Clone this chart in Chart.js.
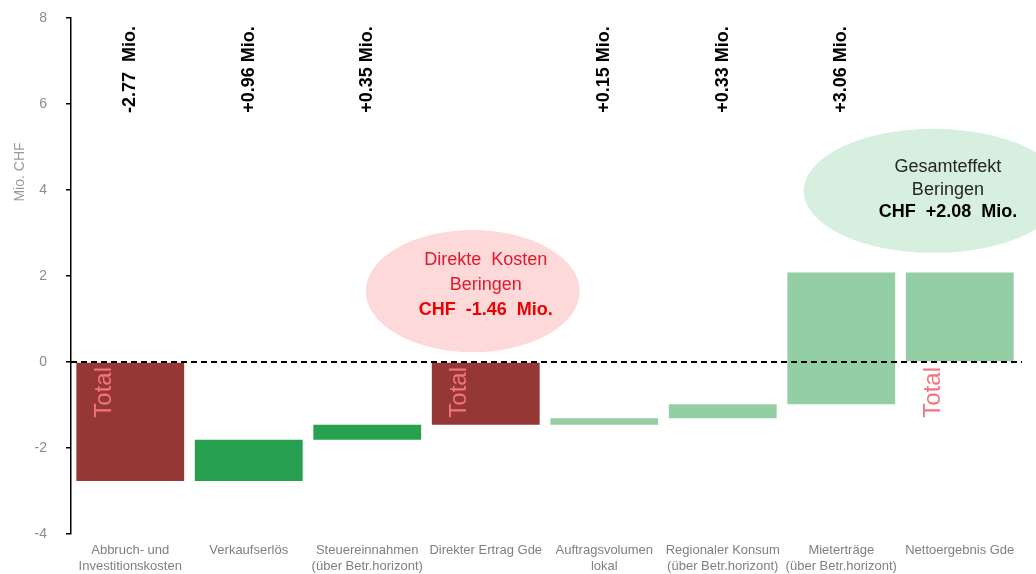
<!DOCTYPE html>
<html>
<head>
<meta charset="utf-8">
<script src="https://cdn.jsdelivr.net/npm/chart.js@4"></script>
<style>
  html, body { margin: 0; padding: 0; background: #fff; }
  #wrap { width: 1036px; height: 574px; position: relative; }
</style>
</head>
<body>
<div id="wrap"><canvas id="chart"></canvas></div>
<script>
// ---- data ----
const categories = [
  ['Abbruch- und', 'Investitionskosten'],
  'Verkaufserlös',
  ['Steuereinnahmen', '(über Betr.horizont)'],
  'Direkter Ertrag Gde',
  ['Auftragsvolumen', 'lokal'],
  ['Regionaler Konsum', '(über Betr.horizont)'],
  ['Mieterträge', '(über Betr.horizont)'],
  'Nettoergebnis Gde'
];
const barLow  = [-2.77, -2.77, -1.81, -1.46, -1.46, -1.31, -0.98, 0];
const barHigh = [0, -1.81, -1.46, 0, -1.31, -0.98, 2.08, 2.08];
const deltaLabels = ['-2.77  Mio.', '+0.96 Mio.', '+0.35 Mio.', '', '+0.15 Mio.', '+0.33 Mio.', '+3.06 Mio.', ''];
const totalIndex = [0, 3, 7];
const yTickValues = [-4, -2, 0, 2, 4, 6, 8];

// colours
const DARK_RED = '#953735';
const GREEN = '#27a050';
const LIGHT_GREEN = '#93cea4';
const barColors = [DARK_RED, GREEN, GREEN, DARK_RED, LIGHT_GREEN, LIGHT_GREEN, LIGHT_GREEN, LIGHT_GREEN];

const FONT = "'Liberation Sans', Arial, sans-serif";

// callouts (position in category index / value units)
const callouts = [
  { cx: 2.89, cy: 1.65, rx: 107, ry: 61, fill: '#fdd9da', tx: 3.0,
    lines: [
      { text: 'Direkte  Kosten', bold: false, color: '#e2192b', y: 2.36 },
      { text: 'Beringen', bold: false, color: '#e2192b', y: 1.78 },
      { text: 'CHF  -1.46  Mio.', bold: true, color: '#ee0000', y: 1.2 }
    ] },
  { cx: 6.78, cy: 3.98, rx: 130, ry: 62, fill: '#d6efde', tx: 6.9,
    lines: [
      { text: 'Gesamteffekt', bold: false, color: '#262626', y: 4.53 },
      { text: 'Beringen', bold: false, color: '#262626', y: 4.0 },
      { text: 'CHF  +2.08  Mio.', bold: true, color: '#000000', y: 3.49 }
    ] }
];

const waterfallDecor = {
  id: 'waterfallDecor',
  afterDatasetsDraw(chart) {
    const { ctx, chartArea, scales: { x, y } } = chart;
    ctx.save();

    // dashed zero line
    ctx.strokeStyle = '#000';
    ctx.lineWidth = 2;
    ctx.setLineDash([6, 4]);
    ctx.beginPath();
    ctx.moveTo(chartArea.left, y.getPixelForValue(0));
    ctx.lineTo(chartArea.right + 3, y.getPixelForValue(0));
    ctx.stroke();
    ctx.setLineDash([]);

    // rotated delta labels at the top
    ctx.fillStyle = '#000';
    ctx.font = 'bold 18px ' + FONT;
    ctx.textAlign = 'center';
    ctx.textBaseline = 'middle';
    deltaLabels.forEach((t, i) => {
      if (!t) return;
      ctx.save();
      ctx.translate(x.getPixelForValue(i), y.getPixelForValue(6.8));
      ctx.rotate(-Math.PI / 2);
      ctx.fillText(t, 0, 0);
      ctx.restore();
    });

    // "Total" labels
    ctx.fillStyle = '#f4737e';
    ctx.font = '24px ' + FONT;
    ctx.textAlign = 'right';
    totalIndex.forEach(i => {
      ctx.save();
      ctx.translate(x.getPixelForValue(i) - 26, y.getPixelForValue(0) + 5);
      ctx.rotate(-Math.PI / 2);
      ctx.fillText('Total', 0, 0);
      ctx.restore();
    });

    // callout ellipses
    callouts.forEach(c => {
      ctx.fillStyle = c.fill;
      ctx.beginPath();
      ctx.ellipse(x.getPixelForValue(c.cx), y.getPixelForValue(c.cy), c.rx, c.ry, 0, 0, Math.PI * 2);
      ctx.fill();
      ctx.textAlign = 'center';
      c.lines.forEach(l => {
        ctx.fillStyle = l.color;
        ctx.font = (l.bold ? 'bold ' : '') + '18px ' + FONT;
        ctx.fillText(l.text, x.getPixelForValue(c.tx), y.getPixelForValue(l.y));
      });
    });

    // y axis title
    ctx.save();
    ctx.fillStyle = '#9a9a9a';
    ctx.font = '14px ' + FONT;
    ctx.textAlign = 'center';
    ctx.translate(20, 172);
    ctx.rotate(-Math.PI / 2);
    ctx.fillText('Mio. CHF', 0, 0);
    ctx.restore();

    ctx.restore();
  }
};

new Chart(document.getElementById('chart'), {
  type: 'bar',
  data: {
    labels: categories,
    datasets: [{
      data: barLow.map((lo, i) => [lo, barHigh[i]]),
      backgroundColor: barColors,
      borderWidth: 0,
      barPercentage: 0.91,
      categoryPercentage: 1.0
    }]
  },
  options: {
    responsive: true,
    maintainAspectRatio: false,
    animation: false,
    layout: { padding: { left: 0, right: 17, top: 18, bottom: 0 } },
    plugins: {
      legend: { display: false },
      tooltip: { enabled: false }
    },
    scales: {
      x: {
        grid: { display: false, drawTicks: false },
        border: { display: false },
        ticks: {
          color: '#808080',
          font: { family: FONT, size: 13, lineHeight: 1.2 },
          padding: 9,
          maxRotation: 0,
          autoSkip: false
        },
        afterFit(scale) { scale.height = 40; }
      },
      y: {
        min: -4,
        max: 8,
        afterBuildTicks(scale) { scale.ticks = yTickValues.map(v => ({ value: v })); },
        grid: { drawOnChartArea: false, drawTicks: true, tickLength: 5, color: '#000', lineWidth: 1.5 },
        border: { color: '#000', width: 1.5 },
        ticks: {
          color: '#8c8c8c',
          font: { family: FONT, size: 14 },
          padding: 19
        },
        afterFit(scale) {
          scale.width = 71;
          scale.paddingTop = 9;
          scale.paddingBottom = 9;
        }
      }
    }
  },
  plugins: [waterfallDecor]
});
</script>
</body>
</html>
